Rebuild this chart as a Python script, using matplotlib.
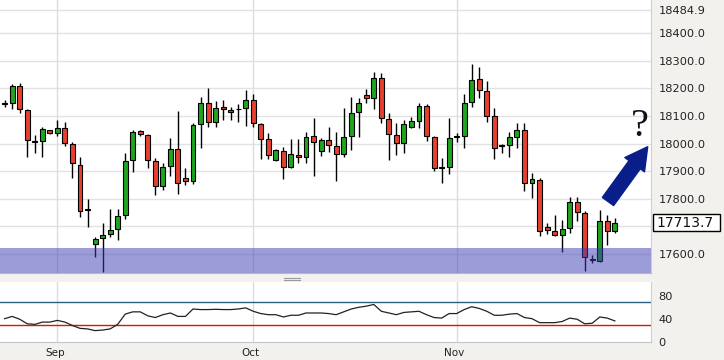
import matplotlib
matplotlib.use("Agg")
import matplotlib.pyplot as plt
import matplotlib.transforms as mtransforms
from matplotlib.patches import Rectangle
from matplotlib.lines import Line2D
import numpy as np

# daily candles
opens = [18144, 18148, 18209, 18122, 18009, 18009, 18048, 18037, 18058, 17997,
         17921, 17760, 17635, 17657, 17671, 17689, 17740, 17939, 18045, 18030,
         17936, 17847, 17918, 17982, 17874, 17863, 18070, 18148, 18077, 18132,
         18113, 18124, 18128, 18157, 18070, 18016, 17942, 17973, 17916, 17960,
         17953, 18026, 17972, 18012, 17990, 17961, 18029, 18113, 18176, 18164,
         18236, 18088, 18030, 18001, 18059, 18083, 18136, 18025, 17913, 17914,
         18023, 18029, 18150, 18233, 18191, 18100, 17992, 17993, 18025, 18049,
         17856, 17868, 17699, 17682, 17668, 17693, 17787, 17750, 17577, 17574,
         17718, 17684]
highs = [18156, 18216, 18221, 18126, 18031, 18061, 18050, 18086, 18079, 18006,
         17953, 17798, 17663, 17711, 17762, 17762, 17965, 18049, 18048, 18035,
         17947, 17929, 18019, 18118, 17911, 18074, 18168, 18200, 18155, 18158,
         18134, 18143, 18194, 18180, 18074, 18037, 17980, 17987, 18016, 18017,
         18040, 18092, 18019, 18059, 18040, 18129, 18168, 18164, 18197, 18258,
         18255, 18110, 18076, 18086, 18095, 18148, 18143, 18027, 17947, 18092,
         18037, 18178, 18288, 18276, 18228, 18128, 18000, 18043, 18074, 18076,
         17895, 17874, 17711, 17741, 17723, 17808, 17808, 17756, 17596, 17759,
         17741, 17729]
lows = [18134, 18126, 18110, 17953, 17965, 17950, 18036, 18028, 17991, 17874,
        17735, 17699, 17588, 17536, 17660, 17650, 17726, 17898, 18029, 17911,
        17814, 17832, 17884, 17816, 17850, 17854, 17983, 18059, 18059, 18086,
        18086, 18077, 18063, 18061, 17943, 17943, 17937, 17871, 17911, 17929,
        17929, 17884, 17956, 17971, 17866, 17953, 17977, 18023, 18148, 18124,
        18074, 17941, 17959, 17965, 18056, 18056, 18009, 17902, 17856, 17889,
        18007, 17983, 18134, 18164, 18077, 17943, 17967, 17953, 17983, 17829,
        17802, 17665, 17672, 17665, 17608, 17675, 17721, 17539, 17566, 17572,
        17633, 17675]
closes = [18147, 18209, 18124, 18012, 18007, 18052, 18038, 18058, 18001, 17929,
          17757, 17763, 17653, 17668, 17686, 17738, 17936, 18042, 18035, 17939,
          17845, 17914, 17979, 17856, 17866, 18066, 18148, 18077, 18128, 18124,
          18121, 18126, 18158, 18074, 18018, 17959, 17977, 17916, 17961, 17953,
          18025, 18005, 18011, 17994, 17961, 18023, 18110, 18146, 18164, 18236,
          18092, 18034, 18001, 18070, 18081, 18136, 18029, 17911, 17915, 18019,
          18026, 18146, 18230, 18194, 18101, 17983, 17995, 18023, 18049, 17856,
          17872, 17684, 17687, 17668, 17689, 17787, 17751, 17590, 17580, 17718,
          17684, 17713.7]

# oscillator under the chart
rsi = [41, 45, 40, 32, 31, 35, 35, 38, 35, 29, 24, 23, 20, 21, 23, 31, 49, 53,
       53, 46, 43, 48, 51, 45, 45, 58, 57, 57, 57.5, 57, 57, 58, 60, 54, 50, 48,
       48, 44, 47, 47, 51, 51, 51, 50, 48, 53, 58, 61, 63, 66, 54, 51, 48, 52,
       53, 54, 48, 43, 42, 50, 50, 57, 62, 59, 54, 47, 47, 49, 50, 43, 41, 34,
       34, 34, 36, 42, 40, 32, 33, 44, 42, 37]

month_pos = [7, 33, 60]
month_labels = ["Sep", "Oct", "Nov"]
price_ticks = [17600, 17800, 17900, 18000, 18100, 18200, 18300, 18400, 18484.9]
grid_levels = [17600, 17700, 17800, 17900, 18000, 18100, 18200, 18300, 18400, 18484.9]
last_price = 17713.7
support_top = 17622

bg = "#f2f1ed"
green = "#1fa51f"
red = "#e8402e"

fig = plt.figure(figsize=(7.24, 3.6), dpi=100, facecolor=bg)
ax = fig.add_axes([0, 0.2417, 0.8992, 0.7583])
ax2 = fig.add_axes([0, 0.05, 0.8992, 0.1667])

x = np.arange(len(opens))
o = np.array(opens); c = np.array(closes)
h = np.array(highs); l = np.array(lows)
up = c >= o

ax.set_facecolor("white")
for g in grid_levels:
    ax.axhline(g, color="#e2e2e2", lw=1, zorder=0)
for m in month_pos:
    ax.axvline(m, color="#dcdcdc", lw=1, zorder=0)

ax.vlines(x, l, h, color="black", lw=1.0, zorder=2)
body = np.maximum(np.abs(c - o), 1.5)
ax.bar(x, body, bottom=np.minimum(o, c), width=0.66,
       color=np.where(up, green, red), edgecolor="black", lw=0.8, zorder=3)

ax.set_xlim(-0.62, 85.8)
ax.set_ylim(17531, 18520)
ax.axhspan(17400, support_top, color=(59/255, 59/255, 179/255), alpha=0.5, lw=0, zorder=4)

ax.yaxis.tick_right()
ax.set_yticks(price_ticks)
ax.set_yticklabels([f"{v:.1f}" for v in price_ticks])
ax.tick_params(axis="y", length=0, pad=5.5, labelsize=8.2, labelcolor="#222222")
ax.set_xticks([])
for s in ["left", "top"]:
    ax.spines[s].set_visible(False)
ax.spines["right"].set_color("#cfcfcf")
ax.spines["bottom"].set_color("#b8b8c8")

# last price box
tr = mtransforms.blended_transform_factory(ax.transAxes, ax.transData)
ax.add_patch(Rectangle((1.003, last_price - 31.5), 0.103, 63, transform=tr,
                       fc="white", ec="black", lw=1, clip_on=False, zorder=5))
ax.text(1.008, last_price, f"{last_price:.1f}", transform=tr, ha="left",
        va="center", fontsize=10, color="#111111", zorder=6)

# arrow and question mark
ax.annotate("", xy=(647.7, 213.3), xytext=(608, 158.5),
            xycoords="figure pixels", textcoords="figure pixels",
            arrowprops=dict(arrowstyle="simple,head_width=17.5,head_length=16,tail_width=10",
                            mutation_scale=1, fc="#0a1e8a", ec="#0a1e8a",
                            shrinkA=0, shrinkB=0), annotation_clip=False)
fig.text(639.5 / 724, 233.5 / 360, "?", ha="center", va="center",
         fontsize=29, family="Liberation Serif", color="#111111")

# drag handle between panels
for yy in (82.5, 80.5):
    fig.add_artist(Line2D([284 / 724, 300 / 724], [yy / 360, yy / 360],
                          color="#9a9a9a", lw=0.8))

# oscillator panel
ax2.set_facecolor("white")
for m in month_pos:
    ax2.axvline(m, color="#dcdcdc", lw=1, zorder=0)
ax2.axhline(70, color="#2a5f80", lw=1, zorder=1)
ax2.axhline(30, color="#e0100a", lw=1, zorder=1)
ax2.plot(x, rsi, color="#222222", lw=0.9, zorder=2)
ax2.set_xlim(-0.62, 85.8)
ax2.set_ylim(0, 105.5)
ax2.yaxis.tick_right()
ax2.set_yticks([0, 40, 80])
ax2.tick_params(axis="y", length=0, pad=5.5, labelsize=8.2, labelcolor="#222222")
ax2.set_xticks([p - 0.33 for p in month_pos])
ax2.set_xticklabels(month_labels)
ax2.tick_params(axis="x", length=0, pad=4, labelsize=7.5, labelcolor="#222222")
for s in ["left", "top"]:
    ax2.spines[s].set_visible(False)
ax2.spines["right"].set_color("#cfcfcf")
ax2.spines["bottom"].set_color("#c4c4cc")

fig.savefig("out.png", dpi=100, facecolor=bg)
